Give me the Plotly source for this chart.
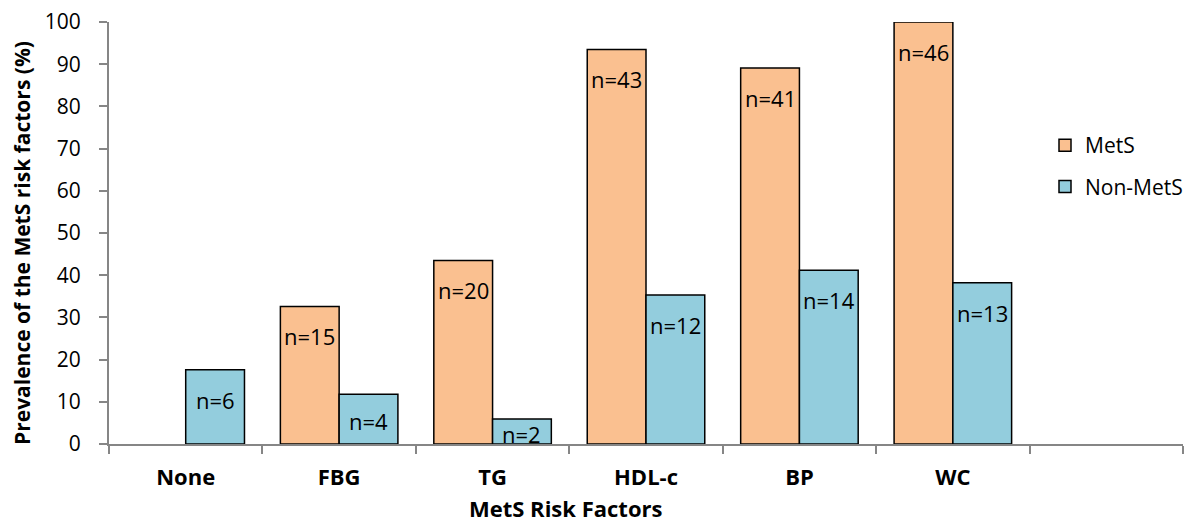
import plotly.graph_objects as go

categories = ["None", "FBG", "TG", "HDL-c", "BP", "WC", " "]
mets_pct = [None, 32.6, 43.5, 93.5, 89.1, 100.0, None]
non_mets_pct = [17.6, 11.8, 5.9, 35.3, 41.2, 38.2, None]
mets_n = [None, 15, 20, 43, 41, 46, None]
non_mets_n = [6, 4, 2, 12, 14, 13, None]

W, H = 1195, 524
L, R, T, B = 109, 12, 22, 80
FONT = "Open Sans"
ORANGE = "#FAC090"
BLUE = "#93CDDD"
AXIS = "#868686"

fig = go.Figure()
fig.add_trace(go.Bar(name="MetS", x=categories, y=mets_pct, marker=dict(color=ORANGE, line=dict(color="black", width=1.5)),
                     legendgroup="a"))
fig.add_trace(go.Bar(name="Non-MetS", x=categories, y=non_mets_pct, marker=dict(color=BLUE, line=dict(color="black", width=1.5)),
                     legendgroup="b"))

plot_w = W - L - R
plot_h = H - T - B
px_per_unit = plot_h / 100.0
cat_px = plot_w / len(categories)
bargap = 0.234
half_bar = cat_px * (1 - bargap) / 4

annotations = []
for series, counts, sign in ((mets_pct, mets_n, -1), (non_mets_pct, non_mets_n, 1)):
    for c, v, n in zip(categories, series, counts):
        if v is None or n is None:
            continue
        shift = -min(30, v * px_per_unit / 2 + 2)
        annotations.append(dict(x=c, y=v, xref="x", yref="y", text=f"n={n}", showarrow=False,
                                xshift=sign * half_bar, yshift=shift, yanchor="middle",
                                font=dict(family=FONT, size=22, color="black")))

annotations.append(dict(text="MetS Risk Factors", xref="paper", yref="paper",
                        x=(565 - L) / plot_w, y=(H - B - 508) / plot_h, xanchor="center", yanchor="middle",
                        showarrow=False, font=dict(family=FONT, size=22, color="black", weight="bold")))
annotations.append(dict(text="Prevalence of the MetS risk factors (%)", xref="paper", yref="paper",
                        x=(22 - L) / plot_w, y=(H - B - 243) / plot_h, xanchor="center", yanchor="middle",
                        textangle=-90, showarrow=False,
                        font=dict(family=FONT, size=21, color="black", weight="bold")))

fig.update_layout(
    width=W, height=H,
    margin=dict(l=L, r=R, t=T, b=B, autoexpand=False),
    paper_bgcolor="white", plot_bgcolor="white",
    barmode="group", bargap=bargap, bargroupgap=0,
    font=dict(family=FONT, size=21, color="black"),
    showlegend=True,
    legend=dict(x=(1045 - L) / plot_w, y=(H - B - 125) / plot_h, xanchor="left", yanchor="top",
                traceorder="grouped", tracegroupgap=11, font=dict(family=FONT, size=21, color="black"),
                bgcolor="rgba(0,0,0,0)"),
    annotations=annotations,
)
fig.update_xaxes(type="category", categoryorder="array", categoryarray=categories,
                 showline=True, linecolor=AXIS, linewidth=2, ticks="outside", tickson="boundaries",
                 ticklen=8, tickwidth=2, tickcolor=AXIS, showgrid=False, zeroline=False,
                 tickfont=dict(family=FONT, size=22, color="black", weight="bold"), ticklabelstandoff=13,
                 range=[-0.5, len(categories) - 0.5], fixedrange=True)
fig.update_yaxes(range=[0, 100], dtick=10, tick0=0, showline=True, linecolor=AXIS, linewidth=2,
                 ticks="outside", ticklen=8, tickwidth=2, tickcolor=AXIS, showgrid=False, zeroline=False,
                 tickfont=dict(family=FONT, size=21, color="black"), ticklabelstandoff=14, fixedrange=True)

fig.write_html("out.html", config={"displayModeBar": False})
